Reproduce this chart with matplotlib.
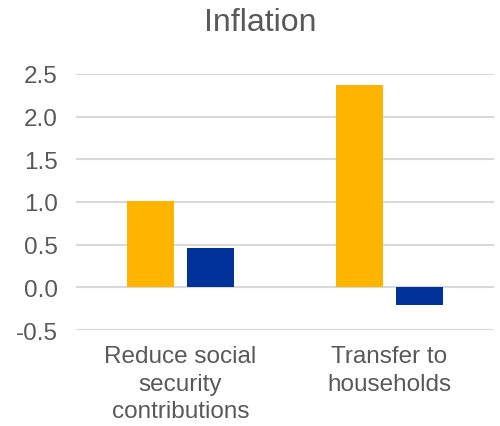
import matplotlib.pyplot as plt
import numpy as np

plt.rcParams['font.family'] = ['Liberation Sans', 'DejaVu Sans']

categories = ["Reduce social\nsecurity\ncontributions", "Transfer to\nhouseholds"]
series_a = [1.01, 2.37]
series_b = [0.46, -0.21]
yticks = [-0.5, 0.0, 0.5, 1.0, 1.5, 2.0, 2.5]

ORANGE = "#FFB400"
BLUE = "#003299"
TEXT = "#595959"
GRID = "#D9D9D9"

fig = plt.figure(figsize=(5.0, 4.27), dpi=100)
ax = fig.add_axes([0.152, 0.2248, 0.836, 0.5996])

x = np.arange(len(categories))
w = 0.225
off = 0.143
ax.bar(x - off, series_a, width=w, color=ORANGE, zorder=3)
ax.bar(x + off, series_b, width=w, color=BLUE, zorder=3)

ax.set_xlim(-0.5, len(categories) - 0.5)
ax.set_ylim(-0.5, 2.5)
ax.set_yticks(yticks)
ax.set_yticklabels([f"{v:.1f}" for v in yticks])
ax.set_xticks(x)
ax.set_xticklabels(categories, linespacing=1.32)

ax.grid(axis='y', color=GRID, linewidth=1.5, zorder=0)
for s in ax.spines.values():
    s.set_visible(False)
ax.tick_params(axis='both', length=0, labelsize=17.5, labelcolor=TEXT)
ax.tick_params(axis='y', pad=13)
ax.tick_params(axis='x', pad=11)

fig.text(0.52, 0.945, "Inflation", ha='center', va='center', fontsize=23, color=TEXT)

fig.savefig("out.png", dpi=100)
